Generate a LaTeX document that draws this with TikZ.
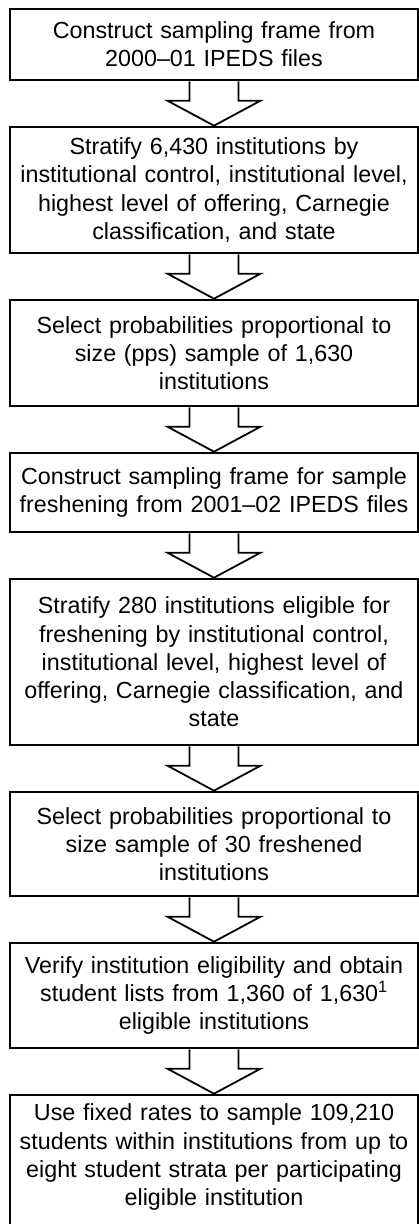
\documentclass[tikz,border=0pt]{standalone}
\usepackage{fontspec}
\setmainfont{Liberation Sans}
\usepackage{tikz}
\usetikzlibrary{positioning}

\begin{document}
\begin{tikzpicture}[x=1pt,y=1pt,node distance=44.4pt,
                    font=\fontsize{23.3}{28.3}\selectfont]
  \tikzstyle{stepbox}=[draw,line width=2.6pt,text width=402pt,inner xsep=3pt,
                       inner ysep=0pt,align=center]
  \tikzstyle{blockarrow}=[draw,line width=1.8pt,line join=miter]

  \useasboundingbox (0,0) rectangle (419,-1224);

  \node[stepbox,minimum height=71pt]  (frame)   at (214,-44.5)
       {Construct sampling frame from\\2000–01 IPEDS files};
  \node[stepbox,minimum height=126pt] (strat)   [below=of frame]
       {Stratify 6,430 institutions by\\institutional control, institutional level,\\highest level of offering, Carnegie\\classification, and state};
  \node[stepbox,minimum height=106pt] (pps)     [below=of strat]
       {Select probabilities proportional to\\size (pps) sample of 1,630\\institutions};
  \node[stepbox,minimum height=79pt]  (fresh)   [below=of pps]
       {Construct sampling frame for sample\\freshening from 2001–02 IPEDS files};
  \node[stepbox,minimum height=166pt] (fstrat)  [below=of fresh]
       {Stratify 280 institutions eligible for\\freshening by institutional control,\\institutional level, highest level of\\offering, Carnegie classification, and\\state};
  \node[stepbox,minimum height=104pt] (fpps)    [below=of fstrat]
       {Select probabilities proportional to\\size sample of 30 freshened\\institutions};
  \node[stepbox,minimum height=105pt] (verify)  [below=of fpps]
       {Verify institution eligibility and obtain\\student lists from 1,360 of 1,630\textsuperscript{1}\\eligible institutions};
  % last box runs past the bottom edge
  \node[stepbox,minimum height=156pt] (student) [below=of verify]
       {Use fixed rates to sample 109,210\\students within institutions from up to\\eight student strata per participating\\eligible institution\\[8pt]\mbox{}};

  % block arrows between the steps
  \foreach \a/\b in {frame/strat,strat/pps,pps/fresh,fresh/fstrat,
                     fstrat/fpps,fpps/verify,verify/student}
    \path[blockarrow] ([xshift=-24.5pt]\a.south)
          -- ([xshift=-24.5pt,yshift=25pt]\b.north)
          -- ([xshift=-46.5pt,yshift=25pt]\b.north)
          -- (\b.north)
          -- ([xshift=46.5pt,yshift=25pt]\b.north)
          -- ([xshift=24.5pt,yshift=25pt]\b.north)
          -- ([xshift=24.5pt]\a.south);
\end{tikzpicture}
\end{document}
